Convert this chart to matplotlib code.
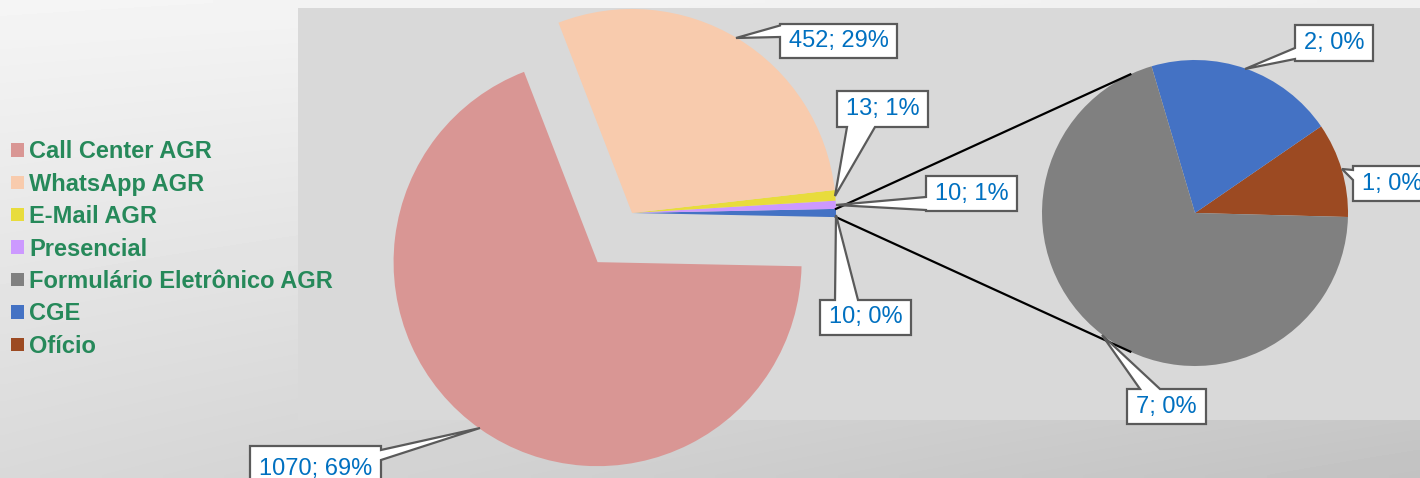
import numpy as np
import matplotlib.pyplot as plt
from matplotlib.patches import Rectangle, Polygon

# data
categories = ["Call Center AGR", "WhatsApp AGR", "E-Mail AGR", "Presencial",
              "Formulário Eletrônico AGR", "CGE", "Ofício"]
values = [1070, 452, 13, 10, 7, 2, 1]
colors = ["#d99694", "#f8cbad", "#e8dc3c", "#cc99ff", "#808080", "#4472c4", "#9c4a22"]
main_labels = ["1070; 69%", "452; 29%", "13; 1%", "10; 1%", "10; 0%"]
sub_labels = ["7; 0%", "2; 0%", "1; 0%"]

W, H = 1420, 478
def Y(py):
    # pixel row -> data y
    return H - py

plt.rcParams['font.family'] = ['Liberation Sans', 'DejaVu Sans']
fig = plt.figure(figsize=(14.2, 4.78), dpi=100)
ax = fig.add_axes([0, 0, 1, 1])

# background gradient (row 0 = top of figure)
gx, gy = np.meshgrid(np.linspace(0, 1, 200), np.linspace(0, 1, 80))
bg = 0.96 - 0.02 * gx - gy * (0.11 + 0.07 * gx)
ax.imshow(bg, cmap='gray', vmin=0, vmax=1, extent=[0, W, 0, H], origin='upper',
          aspect='auto', zorder=0, interpolation='bilinear')
# plot area
ax.add_patch(Rectangle((298, Y(420)), W - 298, 412, color='#d9d9d9', lw=0, zorder=1))

# main pie: first four categories plus the combined "other"
main_vals = values[:4] + [sum(values[4:])]
total = sum(main_vals)
main_c = colors[:4] + [colors[5]]
mv = main_vals[::-1]
mc = main_c[::-1]
wedges_main, _ = ax.pie(mv, colors=mc, startangle=-180 * main_vals[4] / total,
                        radius=204, center=(632, Y(213)), explode=[0, 0, 0, 0, 60],
                        wedgeprops=dict(linewidth=0, zorder=2))

# second pie
sub_vals = values[4:][::-1]
sub_c = colors[4:][::-1]
wedges_sub, _ = ax.pie(sub_vals, colors=sub_c, startangle=-1.5, radius=153,
                       center=(1195, Y(213)), wedgeprops=dict(linewidth=0, zorder=2))

# connector lines
oth = wedges_main[0]
cx, cy = oth.center
for th, end in [(oth.theta2, 115), (oth.theta1, -115)]:
    x0 = cx + 204 * np.cos(np.radians(th))
    y0 = cy + 204 * np.sin(np.radians(th))
    x1 = 1195 + 153 * np.cos(np.radians(end))
    y1 = Y(213) + 153 * np.sin(np.radians(end))
    ax.plot([x0, x1], [y0, y1], color='black', lw=1.6, zorder=3)

# callouts: box (x0, y0, x1, y1) in pixels, tip, side, pointer base
def callout(text, box, tip, side, base):
    x0, y0, x1, y1 = box
    b0, b1 = base
    pts = [(x0, y0)]
    if side == 'top':
        pts += [(b0, y0), tip, (b1, y0)]
    pts += [(x1, y0)]
    if side == 'right':
        pts += [(x1, b0), tip, (x1, b1)]
    pts += [(x1, y1)]
    if side == 'bottom':
        pts += [(b1, y1), tip, (b0, y1)]
    pts += [(x0, y1)]
    if side == 'left':
        pts += [(x0, b1), tip, (x0, b0)]
    pts = [(px, Y(py)) for px, py in pts]
    ax.add_patch(Polygon(pts, closed=True, fc='white', ec='#5a5a5a', lw=1.6,
                         joinstyle='miter', zorder=4))
    ax.text((x0 + x1) / 2, Y((y0 + y1) / 2), text, color='#0070c0', fontsize=17,
            ha='center', va='center', zorder=5)

callout(main_labels[0], (250, 446, 381, 492), (480, 428), 'right', (450, 460))
callout(main_labels[1], (780, 24, 897, 58), (736, 38), 'left', (25.5, 37))
callout(main_labels[2], (837, 91, 928, 127), (835, 196), 'bottom', (847, 875))
callout(main_labels[3], (926, 176, 1017, 211), (836, 205), 'left', (197, 210))
callout(main_labels[4], (820, 300, 911, 335), (836, 215), 'top', (835, 858))
callout(sub_labels[0], (1127, 389, 1206, 424), (1102, 335), 'top', (1140, 1160))
callout(sub_labels[1], (1295, 25, 1373, 61), (1245, 69), 'left', (48, 59))
callout(sub_labels[2], (1353, 166, 1432, 201), (1342, 169), 'left', (170, 180))

# legend
handles = [wedges_main[4], wedges_main[3], wedges_main[2], wedges_main[1],
           wedges_sub[2], wedges_sub[1], wedges_sub[0]]
ax.legend(handles, categories, loc='center left', bbox_to_anchor=(11, Y(249)),
          bbox_transform=ax.transData, frameon=False, borderpad=0, borderaxespad=0,
          handlelength=0.55, handleheight=0.5, handletextpad=0.22, labelspacing=0.40,
          labelcolor='#26895a', prop=dict(family='Liberation Sans', weight='bold', size=17))

ax.set_xlim(0, W)
ax.set_ylim(0, H)
ax.set_aspect('auto')
ax.axis('off')

fig.savefig('out.png', dpi=100)
